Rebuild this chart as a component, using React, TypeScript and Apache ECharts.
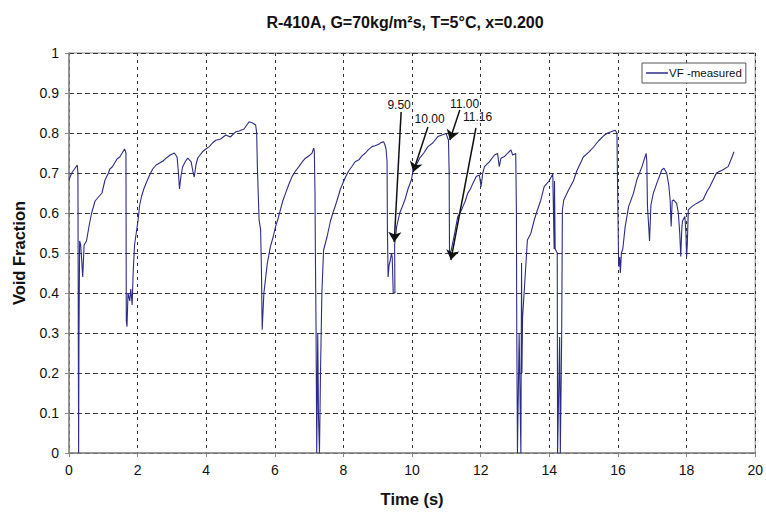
import React, { useEffect, useRef } from "react";
import * as echarts from "echarts";

const titleText = "R-410A, G=70kg/m\u00B2s, T=5\u00B0C, x=0.200";
const seriesName = "VF -measured";

const timeS = [
  0.0, 0.08, 0.16, 0.24, 0.26, 0.28, 0.29, 0.31, 0.34, 0.37, 0.4, 0.44, 0.51, 0.59, 0.66, 0.76, 0.86, 0.96, 1.05, 1.15,
  1.19, 1.26, 1.33, 1.4, 1.48, 1.55, 1.62, 1.66, 1.67, 1.69, 1.72, 1.77, 1.8, 1.84, 1.87, 1.91, 1.96, 2.01,
  2.06, 2.11, 2.18, 2.25, 2.35, 2.44, 2.54, 2.64, 2.74, 2.83, 2.95, 3.07, 3.15, 3.19, 3.22, 3.26, 3.31, 3.4, 3.46, 3.56,
  3.62, 3.65, 3.7, 3.75, 3.82, 3.89, 3.99, 4.09, 4.18, 4.28, 4.42, 4.57, 4.7, 4.86, 4.96, 5.1, 5.25, 5.35, 5.44, 5.47,
  5.49, 5.54, 5.585, 5.61, 5.63, 5.68, 5.78, 5.87, 5.95, 6.02, 6.09, 6.16, 6.23, 6.31, 6.4, 6.5, 6.6, 6.7, 6.79, 6.89,
  6.98, 7.08, 7.13, 7.15, 7.17, 7.18, 7.2, 7.22, 7.25, 7.27, 7.3, 7.33, 7.37, 7.42, 7.52, 7.62, 7.71, 7.77, 7.86, 7.91,
  8.06, 8.15, 8.25, 8.34, 8.45, 8.53, 8.64, 8.72, 8.83, 8.92, 9.03, 9.09, 9.17, 9.21, 9.24, 9.27, 9.28, 9.3, 9.33, 9.36,
  9.4, 9.42, 9.45, 9.5, 9.49, 9.55, 9.64, 9.71, 9.79, 9.88, 9.98, 10.03, 10.12, 10.22, 10.34, 10.46, 10.6, 10.75, 10.87, 10.99,
  11.06, 11.08, 11.09, 11.14, 11.24, 11.33, 11.4, 11.48, 11.55, 11.62, 11.7, 11.77, 11.87, 11.96, 12.01, 12.06, 12.11, 12.25, 12.4, 12.49,
  12.54, 12.59, 12.69, 12.78, 12.88, 12.93, 13.02, 13.04, 13.05, 13.07, 13.12, 13.17, 13.19, 13.2, 13.22, 13.27, 13.36, 13.46, 13.56, 13.65,
  13.75, 13.85, 13.99, 14.1, 14.12, 14.14, 14.15, 14.17, 14.23, 14.24, 14.3, 14.32, 14.36, 14.38, 14.42, 14.56, 14.7, 14.8, 14.99, 15.15,
  15.29, 15.43, 15.58, 15.7, 15.8, 15.92, 15.97, 15.99, 16.02, 16.05, 16.07, 16.1, 16.14, 16.21, 16.31, 16.45, 16.55, 16.7, 16.82, 16.84,
  16.86, 16.9, 16.92, 16.96, 17.03, 17.13, 17.28, 17.34, 17.42, 17.48, 17.52, 17.55, 17.58, 17.62, 17.71, 17.76, 17.8, 17.83, 17.86, 17.88,
  17.95, 17.98, 18.0, 18.02, 18.05, 18.15, 18.29, 18.48, 18.6, 18.68, 18.87, 19.06, 19.21, 19.31, 19.38,
];

const voidFraction = [
  0.683, 0.7, 0.71, 0.72, 0.7, 0.0, 0.28, 0.53, 0.52, 0.4825, 0.44, 0.52, 0.53, 0.57, 0.6, 0.63, 0.64, 0.65, 0.6825, 0.7,
  0.71, 0.715, 0.725, 0.735, 0.74, 0.75, 0.76, 0.75, 0.33, 0.316, 0.4, 0.38, 0.41, 0.37, 0.45, 0.52, 0.55, 0.58,
  0.62, 0.64, 0.66, 0.675, 0.695, 0.71, 0.72, 0.725, 0.73, 0.737, 0.745, 0.75, 0.74, 0.7, 0.66, 0.69, 0.715, 0.73, 0.737, 0.728,
  0.7, 0.69, 0.72, 0.737, 0.745, 0.753, 0.76, 0.766, 0.775, 0.782, 0.785, 0.795, 0.79, 0.803, 0.805, 0.81, 0.828, 0.825, 0.82, 0.8,
  0.716, 0.583, 0.558, 0.45, 0.308, 0.4, 0.474, 0.516, 0.54, 0.566, 0.585, 0.608, 0.63, 0.649, 0.67, 0.691, 0.705, 0.716, 0.727, 0.737,
  0.742, 0.749, 0.762, 0.755, 0.65, 0.508, 0.316, 0.0, 0.3, 0.1, 0.0, 0.2, 0.4, 0.5075, 0.54, 0.58, 0.605, 0.62, 0.645, 0.66,
  0.69, 0.705, 0.717, 0.728, 0.733, 0.742, 0.75, 0.758, 0.766, 0.768, 0.772, 0.776, 0.778, 0.77, 0.76, 0.728, 0.5625, 0.44, 0.47, 0.48,
  0.499, 0.49, 0.4, 0.4, 0.52, 0.566, 0.6, 0.615, 0.633, 0.66, 0.683, 0.708, 0.72, 0.737, 0.75, 0.766, 0.775, 0.791, 0.795, 0.799,
  0.782, 0.7, 0.499, 0.507, 0.549, 0.591, 0.6, 0.616, 0.63, 0.649, 0.66, 0.674, 0.691, 0.695, 0.666, 0.7, 0.716, 0.728, 0.745, 0.749,
  0.716, 0.737, 0.741, 0.749, 0.758, 0.745, 0.749, 0.6, 0.316, 0.0, 0.299, 0.0, 0.475, 0.2, 0.34, 0.4075, 0.5325, 0.549, 0.5825, 0.607,
  0.632, 0.666, 0.68, 0.6975, 0.6975, 0.51, 0.68, 0.51, 0.5, 0.0, 0.29, 0.0, 0.3, 0.6075, 0.6325, 0.6575, 0.68, 0.705, 0.74, 0.752,
  0.765, 0.78, 0.793, 0.8, 0.803, 0.807, 0.8, 0.658, 0.466, 0.49, 0.45, 0.5, 0.51, 0.566, 0.616, 0.649, 0.683, 0.716, 0.749, 0.73,
  0.616, 0.56, 0.53, 0.62, 0.649, 0.674, 0.708, 0.712, 0.7, 0.67, 0.633, 0.566, 0.63, 0.633, 0.624, 0.6, 0.55, 0.491, 0.56, 0.58,
  0.591, 0.55, 0.491, 0.52, 0.608, 0.616, 0.624, 0.633, 0.655, 0.666, 0.7, 0.708, 0.716, 0.737, 0.753,
];

const xTicks = { min: 0, max: 20, interval: 2 };
const yTicks = { min: 0, max: 1, interval: 0.1 };

// annotation labels and arrows (data coordinates)
const annotationLabels = ["9.50", "10.00", "11.00", "11.16"];
const labelX = [9.62, 10.51, 11.53, 11.91];
const labelY = [0.871, 0.836, 0.8725, 0.84];
const arrowStartX = [9.68, 10.46, 11.39, 11.86];
const arrowStartY = [0.8525, 0.815, 0.8575, 0.8125];
const arrowEndX = [9.48, 10.03, 11.1, 11.13];
const arrowEndY = [0.5275, 0.7025, 0.7825, 0.4825];

const FONT = "'Liberation Sans', Arial, sans-serif";

export default function App() {
  const ref = useRef<HTMLDivElement>(null);
  useEffect(() => {
    if (!ref.current) return;
    const chart = echarts.init(ref.current, undefined, { renderer: "svg" });
    const data = timeS.map((t, i) => [t, voidFraction[i]]);
    const arrows = arrowStartX.map((sx, i) => [
      { coord: [sx, arrowStartY[i]] },
      { coord: [arrowEndX[i], arrowEndY[i]] },
    ]);
    const labels = annotationLabels.map((name, i) => ({ name, coord: [labelX[i], labelY[i]] }));
    chart.setOption({
      animation: false,
      backgroundColor: "#fff",
      textStyle: { fontFamily: FONT },
      title: {
        text: titleText,
        left: 400,
        top: 9,
        textAlign: "center",
        textStyle: { fontFamily: FONT, fontSize: 16, fontWeight: "bold", color: "#111" },
      },
      legend: {
        data: [seriesName],
        left: 642,
        top: 63,
        orient: "vertical",
        backgroundColor: "#fff",
        borderColor: "#555",
        borderWidth: 1,
        borderRadius: 0,
        padding: [4, 4, 4, 4],
        icon: "rect",
        itemWidth: 22,
        itemHeight: 1.5,
        itemGap: 2,
        textStyle: { fontFamily: FONT, fontSize: 11.5, color: "#111", padding: [0, 0, 0, -4] },
      },
      grid: {
        left: 69,
        right: 7,
        top: 53,
        bottom: 59,
        show: true,
        borderColor: "#888",
        borderWidth: 1,
        backgroundColor: "transparent",
      },
      xAxis: {
        type: "value",
        min: xTicks.min,
        max: xTicks.max,
        interval: xTicks.interval,
        name: "Time (s)",
        nameLocation: "middle",
        nameGap: 37,
        nameTextStyle: { fontFamily: FONT, fontSize: 16.5, fontWeight: "bold", color: "#111" },
        axisLine: { show: true, lineStyle: { color: "#888", width: 1.5 } },
        axisTick: { show: true, length: 4, lineStyle: { color: "#888" } },
        axisLabel: { fontFamily: FONT, fontSize: 14, color: "#111", margin: 10 },
        splitLine: { show: true, lineStyle: { color: "#333", type: [3, 4], width: 1 } },
      },
      yAxis: {
        type: "value",
        min: yTicks.min,
        max: yTicks.max,
        interval: yTicks.interval,
        name: "Void Fraction",
        nameLocation: "middle",
        nameGap: 42,
        nameTextStyle: { fontFamily: FONT, fontSize: 16.5, fontWeight: "bold", color: "#111" },
        axisLine: { show: true, lineStyle: { color: "#888", width: 1.5 } },
        axisTick: { show: true, length: 4, lineStyle: { color: "#888" } },
        axisLabel: {
          fontFamily: FONT,
          fontSize: 14,
          color: "#111",
          margin: 10,
          formatter: (v: number) => String(Math.round(v * 10) / 10),
        },
        splitLine: { show: true, lineStyle: { color: "#333", type: [5, 3], width: 1 } },
      },
      series: [
        {
          name: seriesName,
          type: "line",
          data,
          showSymbol: false,
          symbol: "none",
          color: "#2c2c88",
          lineStyle: { color: "#2c2c88", width: 1.1 },
          markLine: {
            silent: true,
            symbol: ["none", "arrow"],
            symbolSize: 10,
            label: { show: false },
            lineStyle: { color: "#111", width: 1.5, type: "solid" },
            data: arrows,
          },
          markPoint: {
            silent: true,
            symbol: "rect",
            symbolSize: 1,
            itemStyle: { color: "rgba(0,0,0,0)" },
            label: {
              show: true,
              position: "inside",
              formatter: (p: any) => p.name,
              fontFamily: FONT,
              fontSize: 12,
              color: "#111",
            },
            data: labels,
          },
        },
      ],
    });
    return () => chart.dispose();
  }, []);
  return <div ref={ref} style={{ width: 766, height: 512, position: "absolute", left: 0, top: 0 }} />;
}
